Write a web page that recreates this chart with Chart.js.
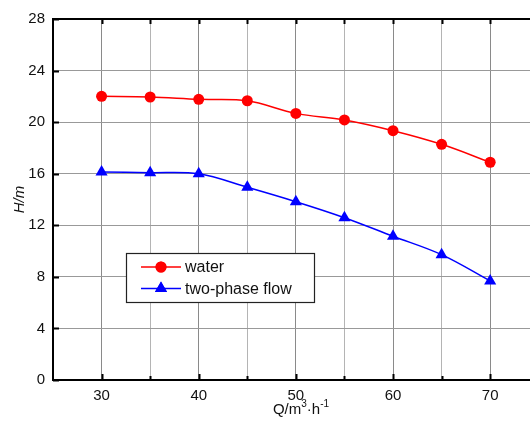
<!DOCTYPE html>
<html>
<head>
<meta charset="utf-8">
<script src="https://cdn.jsdelivr.net/npm/chart.js@4/dist/chart.umd.min.js"></script>
<style>
  html, body { margin: 0; padding: 0; background: #fff; overflow: hidden; }
  #wrap { width: 530px; height: 425px; position: relative; }
</style>
</head>
<body>
<div id="wrap"><canvas id="c"></canvas></div>
<script>
// Flow rate Q (m3/h) and head H (m) for the pump curves
const flowRates = [30, 35, 40, 45, 50, 55, 60, 65, 70];
const waterHead = [22.0, 21.95, 21.77, 21.66, 20.68, 20.17, 19.34, 18.28, 16.89];
const twoPhaseHead = [16.13, 16.08, 15.99, 14.95, 13.83, 12.59, 11.15, 9.72, 7.68];
const seriesNames = ['water', 'two-phase flow'];
const xTickLabels = [30, 40, 50, 60, 70];
const yTickLabels = [0, 4, 8, 12, 16, 20, 24, 28];

const FONT = "'Liberation Sans', Arial, sans-serif";
const RED = '#ff0000';
const BLUE = '#0000ff';

const toPoints = (ys) => flowRates.map((q, i) => ({ x: q, y: ys[i] }));
const isMajorQ = (v) => xTickLabels.some(t => Math.abs(t - v) < 1e-6);

// Frame, inward tick marks, x-axis title and boxed legend
const decorations = {
  id: 'decorations',
  afterDraw(chart) {
    const { ctx, chartArea: a, scales: { x, y } } = chart;
    ctx.save();

    // tick marks
    ctx.strokeStyle = '#000';
    ctx.lineWidth = 2;
    flowRates.forEach(q => {
      const px = Math.round(x.getPixelForValue(q)) + 0.5;
      const major = isMajorQ(q);
      ctx.beginPath();
      ctx.moveTo(px, a.top); ctx.lineTo(px, a.top + 5);
      ctx.moveTo(px, a.bottom); ctx.lineTo(px, a.bottom - (major ? 6 : 4));
      ctx.stroke();
    });
    yTickLabels.forEach(v => {
      const py = Math.round(y.getPixelForValue(v)) + 0.5;
      ctx.beginPath();
      ctx.moveTo(a.left, py); ctx.lineTo(a.left + 6, py);
      ctx.stroke();
    });

    // frame: top, left, bottom
    ctx.beginPath();
    ctx.moveTo(a.right, a.top); ctx.lineTo(a.left, a.top);
    ctx.lineTo(a.left, a.bottom); ctx.lineTo(a.right, a.bottom);
    ctx.stroke();

    // x-axis title with superscripts
    ctx.fillStyle = '#111';
    ctx.textBaseline = 'alphabetic';
    const big = '15px ' + FONT, small = '10px ' + FONT;
    const parts = [
      { t: 'Q/m', f: big, dy: 0 },
      { t: '3', f: small, dy: -7 },
      { t: '\u00b7h', f: big, dy: 0 },
      { t: '-1', f: small, dy: -7 }
    ];
    let total = 0;
    parts.forEach(p => { ctx.font = p.f; p.w = ctx.measureText(p.t).width; total += p.w; });
    let tx = 301 - total / 2;
    const ty = 414;
    parts.forEach(p => { ctx.font = p.f; ctx.fillText(p.t, tx, ty + p.dy); tx += p.w; });

    // legend
    const box = { l: 126.5, t: 253.5, w: 188, h: 49 };
    ctx.fillStyle = '#fff';
    ctx.fillRect(box.l, box.t, box.w, box.h);
    ctx.strokeStyle = '#222';
    ctx.lineWidth = 1.2;
    ctx.strokeRect(box.l, box.t, box.w, box.h);
    const rows = [
      { name: seriesNames[0], color: RED, style: 'circle', cy: 267, r: 5.5 },
      { name: seriesNames[1], color: BLUE, style: 'triangle', cy: 288.5, r: 7 }
    ];
    rows.forEach(row => {
      ctx.strokeStyle = row.color;
      ctx.lineWidth = 1.5;
      ctx.beginPath();
      ctx.moveTo(141, row.cy); ctx.lineTo(181, row.cy);
      ctx.stroke();
      ctx.fillStyle = row.color;
      Chart.helpers.drawPoint(ctx, {
        pointStyle: row.style, radius: row.r, rotation: 0, borderWidth: 0
      }, 161, row.cy);
      ctx.fill();
      ctx.fillStyle = '#111';
      ctx.font = '16px ' + FONT;
      ctx.textBaseline = 'middle';
      ctx.fillText(row.name, 185, row.cy + 1);
    });

    ctx.restore();
  }
};

new Chart(document.getElementById('c'), {
  type: 'line',
  data: {
    datasets: [
      {
        label: seriesNames[0],
        data: toPoints(waterHead),
        borderColor: RED,
        backgroundColor: RED,
        borderWidth: 1.5,
        pointStyle: 'circle',
        pointRadius: 5.5,
        pointBorderWidth: 0,
        tension: 0.35,
        fill: false
      },
      {
        label: seriesNames[1],
        data: toPoints(twoPhaseHead),
        borderColor: BLUE,
        backgroundColor: BLUE,
        borderWidth: 1.5,
        pointStyle: 'triangle',
        pointRadius: 7,
        pointBorderWidth: 0,
        tension: 0.35,
        fill: false
      }
    ]
  },
  options: {
    responsive: true,
    maintainAspectRatio: false,
    animation: false,
    layout: { autoPadding: false, padding: { top: 19, right: 0, bottom: 0, left: 0 } },
    plugins: { legend: { display: false }, tooltip: { enabled: false } },
    scales: {
      x: {
        type: 'linear',
        min: 25,
        max: 74.1,
        // one grid line every 5 m3/h, at the measured flow rates
        afterBuildTicks: (s) => { s.ticks = flowRates.map(v => ({ value: v })); },
        afterFit: (s) => { s.height = 45; s.paddingLeft = 0; s.paddingRight = 0; },
        ticks: {
          autoSkip: false,
          maxRotation: 0,
          padding: 7,
          color: '#111',
          font: { family: FONT, size: 15 },
          callback: (v) => (isMajorQ(v) ? String(Math.round(v)) : '')
        },
        grid: {
          drawTicks: false,
          lineWidth: 1,
          color: (c) => (c.tick && isMajorQ(c.tick.value) ? '#8a8a8a' : '#b4b4b4')
        },
        border: { display: false }
      },
      y: {
        type: 'linear',
        min: 0,
        max: 28,
        afterFit: (s) => { s.width = 53; },
        ticks: {
          stepSize: 4,
          padding: 8,
          color: '#111',
          font: { family: FONT, size: 15 }
        },
        grid: { drawTicks: false, color: '#999', lineWidth: 1 },
        border: { display: false },
        title: {
          display: true,
          text: 'H/m',
          color: '#111',
          font: { family: FONT, size: 15, style: 'italic' },
          padding: { top: 11, bottom: 0 }
        }
      }
    }
  },
  plugins: [decorations]
});
</script>
</body>
</html>
